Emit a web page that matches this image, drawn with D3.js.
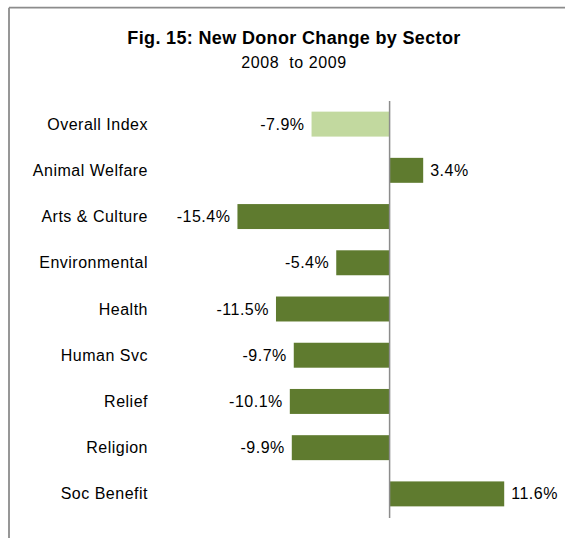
<!DOCTYPE html>
<html>
<head>
<meta charset="utf-8">
<script src="https://cdn.jsdelivr.net/npm/d3@7"></script>
<style>
  html, body { margin: 0; padding: 0; background: #fff; }
  svg { display: block; font-family: "Liberation Sans", Arial, sans-serif; }
</style>
</head>
<body>
<svg id="chart" width="565" height="538"></svg>
<script>
// New donor change by sector, 2008 to 2009 (percent)
const categories = [
  "Overall Index", "Animal Welfare", "Arts & Culture", "Environmental",
  "Health", "Human Svc", "Relief", "Religion", "Soc Benefit"
];
const changes = [-7.9, 3.4, -15.4, -5.4, -11.5, -9.7, -10.1, -9.9, 11.6];
const xDomain = [-20, 15];

const title = "Fig. 15: New Donor Change by Sector";
const subtitle = "2008\u00a0\u00a0to 2009";

const darkGreen = "#5f7b2f";
const lightGreen = "#c2d99f";
const frameGray = "#8c8c8c";

const svg = d3.select("#chart");

// Frame (top and left edges of the chart box)
svg.append("line")
  .attr("x1", 9).attr("y1", 7.7).attr("x2", 565).attr("y2", 7.7)
  .attr("stroke", frameGray).attr("stroke-width", 1.8);
svg.append("line")
  .attr("x1", 9).attr("y1", 7.7).attr("x2", 9).attr("y2", 538)
  .attr("stroke", frameGray).attr("stroke-width", 1.8);

// Titles
svg.append("text")
  .attr("x", 294).attr("y", 44)
  .attr("text-anchor", "middle")
  .attr("font-size", 18).attr("font-weight", "bold")
  .attr("letter-spacing", "0.35px")
  .attr("fill", "#000")
  .text(title);
svg.append("text")
  .attr("x", 294).attr("y", 68)
  .attr("text-anchor", "middle")
  .attr("font-size", 16)
  .attr("letter-spacing", "0.6px")
  .attr("fill", "#000")
  .text(subtitle);

// Scales
const x = d3.scaleLinear().domain(xDomain).range([192, 537.8]);
const y = d3.scaleBand()
  .domain(categories)
  .range([101, 517])
  .paddingInner(0.46)
  .paddingOuter(0.23);

const rows = categories.map((c, i) => ({ name: c, value: changes[i] }));

// Bars
svg.append("g").selectAll("rect")
  .data(rows)
  .join("rect")
  .attr("x", d => x(Math.min(0, d.value)))
  .attr("y", d => y(d.name))
  .attr("width", d => Math.abs(x(d.value) - x(0)))
  .attr("height", y.bandwidth())
  .attr("fill", d => d.name === "Overall Index" ? lightGreen : darkGreen);

// Zero line
const x0 = x(0);
svg.append("line")
  .attr("x1", x0).attr("x2", x0)
  .attr("y1", 101).attr("y2", 518)
  .attr("stroke", frameGray).attr("stroke-width", 1.5);

// Category labels
svg.append("g").selectAll("text")
  .data(rows)
  .join("text")
  .attr("x", 148)
  .attr("y", d => y(d.name) + y.bandwidth() / 2)
  .attr("dy", "0.35em")
  .attr("text-anchor", "end")
  .attr("font-size", 16)
  .attr("letter-spacing", "0.5px")
  .attr("fill", "#000")
  .text(d => d.name);

// Value labels
svg.append("g").selectAll("text")
  .data(rows)
  .join("text")
  .attr("x", d => d.value < 0 ? x(d.value) - 7 : x(d.value) + 7)
  .attr("y", d => y(d.name) + y.bandwidth() / 2)
  .attr("dy", "0.35em")
  .attr("text-anchor", d => d.value < 0 ? "end" : "start")
  .attr("font-size", 16)
  .attr("letter-spacing", "0.5px")
  .attr("fill", "#000")
  .text(d => d.value.toFixed(1) + "%");
</script>
</body>
</html>
